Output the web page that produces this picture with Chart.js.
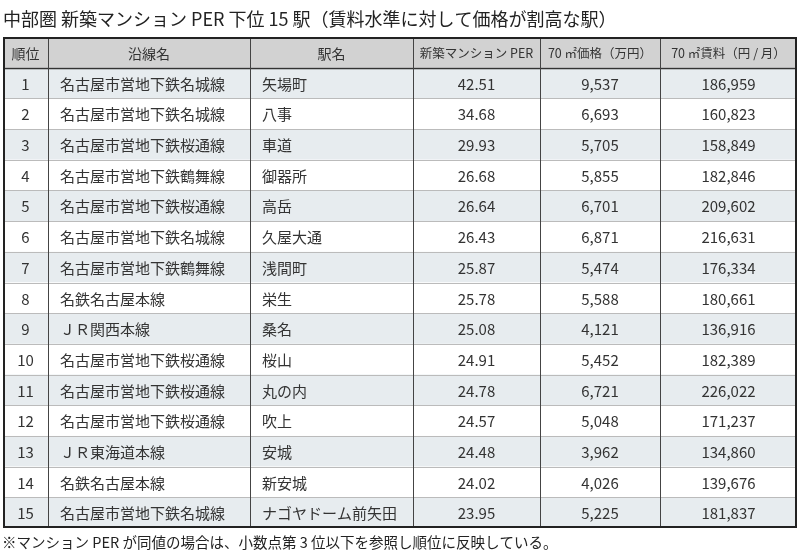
<!DOCTYPE html>
<html><head><meta charset="utf-8">
<script src="https://cdn.jsdelivr.net/npm/chart.js@4"></script>
<style>html,body{margin:0;padding:0;background:#fff}#w{width:800px;height:552px}</style>
</head><body><div id="w"><canvas id="c"></canvas></div>
<script>
const title = "中部圏 新築マンション PER 下位 15 駅（賃料水準に対して価格が割高な駅）";
const footnote = "※マンション PER が同値の場合は、小数点第 3 位以下を参照し順位に反映している。";
const headers = ["順位","沿線名","駅名","新築マンション PER","70 ㎡価格（万円）","70 ㎡賃料（円 / 月）"];
const ranks = [1,2,3,4,5,6,7,8,9,10,11,12,13,14,15];
const lines = ["名古屋市営地下鉄名城線","名古屋市営地下鉄名城線","名古屋市営地下鉄桜通線","名古屋市営地下鉄鶴舞線","名古屋市営地下鉄桜通線","名古屋市営地下鉄名城線","名古屋市営地下鉄鶴舞線","名鉄名古屋本線","ＪＲ関西本線","名古屋市営地下鉄桜通線","名古屋市営地下鉄桜通線","名古屋市営地下鉄桜通線","ＪＲ東海道本線","名鉄名古屋本線","名古屋市営地下鉄名城線"];
const stations = ["矢場町","八事","車道","御器所","高岳","久屋大通","浅間町","栄生","桑名","桜山","丸の内","吹上","安城","新安城","ナゴヤドーム前矢田"];
const per = [42.51,34.68,29.93,26.68,26.64,26.43,25.87,25.78,25.08,24.91,24.78,24.57,24.48,24.02,23.95];
const price = [9537,6693,5705,5855,6701,6871,5474,5588,4121,5452,6721,5048,3962,4026,5225];
const rent = [186959,160823,158849,182846,209602,216631,176334,180661,136916,182389,226022,171237,134860,139676,181837];

const rowLabels = ["h"].concat(ranks.map(String));
const colEdges = [0,45,247,410,537,657,794];
const FONT = '"Noto Sans CJK JP","Noto Sans",sans-serif';
const fmt = n => n.toLocaleString('en-US');

const tablePlugin = {
  id:'table',
  afterDraw(chart){
    const ctx = chart.ctx, ys = chart.scales.y, a = chart.chartArea;
    const n = rowLabels.length;
    const step = (a.bottom - a.top)/n;
    const X = i => a.left + colEdges[i];
    ctx.save();
    for(let r=0;r<n;r++){
      const cy = ys.getPixelForValue(r);
      ctx.fillStyle = r===0 ? '#d2d2d2' : (r%2===1 ? '#e7ecef' : '#ffffff');
      ctx.fillRect(X(0), cy - step/2, X(6)-X(0), step);
    }
    for(let r=1;r<n;r++){
      const y = Math.round(ys.getPixelForValue(r) - step/2)+0.5;
      ctx.beginPath(); ctx.moveTo(X(0), y); ctx.lineTo(X(6), y);
      ctx.strokeStyle = r===1 ? '#333' : '#bbb'; ctx.lineWidth = r===1?1.5:1; ctx.stroke();
    }
    for(let c=1;c<6;c++){
      const x = Math.round(X(c))+0.5;
      ctx.beginPath(); ctx.moveTo(x, a.top); ctx.lineTo(x, a.bottom);
      ctx.strokeStyle = '#444'; ctx.lineWidth = 1; ctx.stroke();
    }
    ctx.strokeStyle = '#222'; ctx.lineWidth = 2;
    ctx.strokeRect(X(0)+1, a.top+1, X(6)-X(0)-2, a.bottom-a.top-2);
    ctx.fillStyle = '#333'; ctx.textBaseline = 'middle';
    for(let r=0;r<n;r++){
      const cy = ys.getPixelForValue(r)+1;
      let cells;
      if(r===0){ cells = headers; }
      else { const i=r-1; cells=[String(ranks[i]),lines[i],stations[i],per[i].toFixed(2),fmt(price[i]),fmt(rent[i])]; }
      for(let c=0;c<6;c++){
        ctx.font = (r===0 ? (c>=3 ? '12.5px ' : '14px ') : '15px ') + FONT;
        const left = (r>0 && (c===1||c===2));
        ctx.textAlign = left ? 'left' : 'center';
        const x = left ? X(c)+12 : (X(c)+X(c+1))/2;
        ctx.fillText(cells[c], x, cy);
      }
    }
    ctx.fillStyle='#222'; ctx.textAlign='left';
    ctx.font = '18px '+FONT;
    ctx.fillText(title, 3, 19);
    ctx.font = '14.5px '+FONT;
    ctx.fillText(footnote, 2, 542);
    ctx.restore();
  }
};

new Chart(document.getElementById('c'), {
  type:'bar',
  data:{ labels: rowLabels, datasets:[{ data: rowLabels.map(()=>null) }] },
  options:{
    responsive:true, maintainAspectRatio:false, animation:false,
    indexAxis:'y',
    layout:{ padding:{ left:3, right:3, top:37, bottom:24 } },
    plugins:{ legend:{display:false}, tooltip:{enabled:false} },
    scales:{
      x:{ display:false, min:0, max:1 },
      y:{ display:false, type:'category', offset:true }
    }
  },
  plugins:[tablePlugin]
});
</script></body></html>
